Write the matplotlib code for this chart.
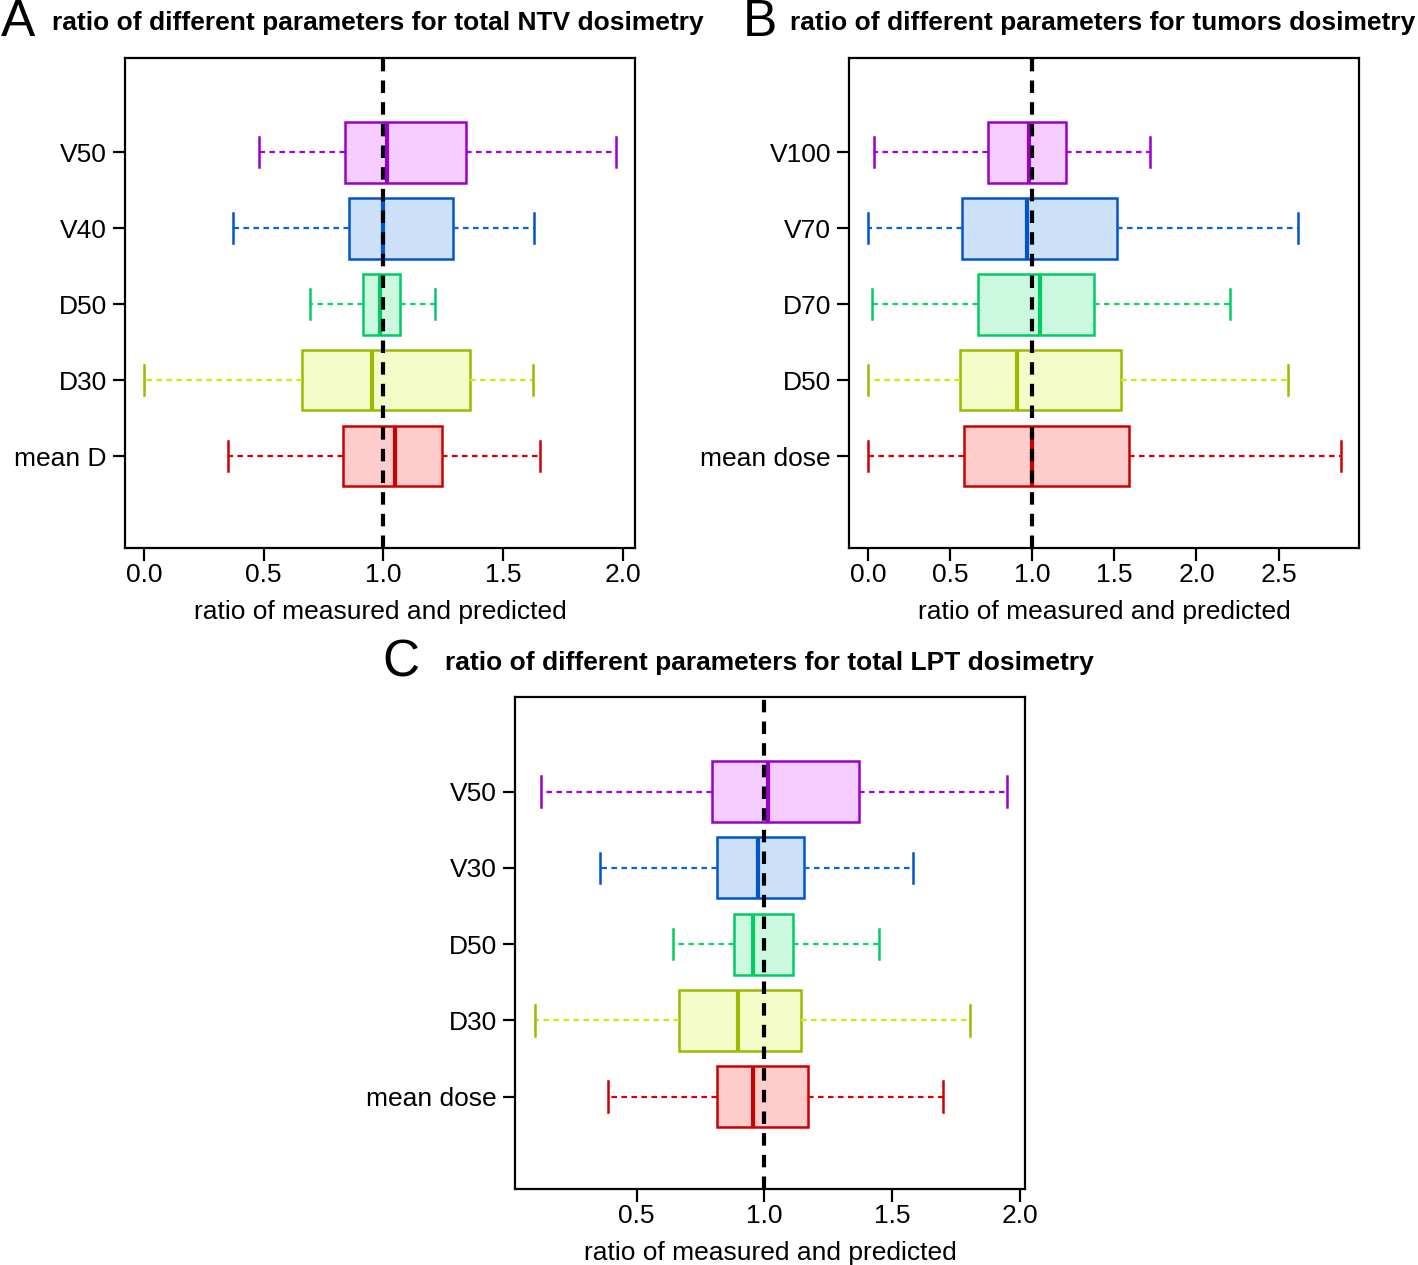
import matplotlib
matplotlib.use("Agg")
import matplotlib.pyplot as plt

plt.rcParams['font.family'] = ['Liberation Sans', 'DejaVu Sans']

# panel A: total NTV
labels_a = ["mean D", "D30", "D50", "V40", "V50"]
low_a = [0.35, 0.0, 0.693, 0.37, 0.48]
q1_a = [0.83, 0.66, 0.914, 0.856, 0.84]
med_a = [1.048, 0.952, 0.985, 1.0, 1.015]
q3_a = [1.244, 1.36, 1.07, 1.29, 1.345]
high_a = [1.653, 1.625, 1.215, 1.63, 1.97]

# panel B: tumors
labels_b = ["mean dose", "D50", "D70", "V70", "V100"]
low_b = [0.0, 0.0, 0.024, 0.0, 0.037]
q1_b = [0.585, 0.561, 0.67, 0.573, 0.73]
med_b = [1.0, 0.909, 1.049, 0.97, 0.98]
q3_b = [1.59, 1.543, 1.378, 1.518, 1.207]
high_b = [2.878, 2.555, 2.207, 2.616, 1.72]

# panel C: total LPT
labels_c = ["mean dose", "D30", "D50", "V30", "V50"]
low_c = [0.388, 0.102, 0.643, 0.357, 0.125]
q1_c = [0.816, 0.667, 0.882, 0.816, 0.796]
med_c = [0.957, 0.898, 0.957, 0.976, 1.012]
q3_c = [1.169, 1.145, 1.11, 1.153, 1.369]
high_c = [1.698, 1.804, 1.447, 1.58, 1.949]

edge = ["#cc0000", "#99bb00", "#00cc66", "#0055cc", "#9900cc"]
whisk = ["#dd0000", "#ccee00", "#00dd66", "#0066dd", "#aa00dd"]
fill = ["#ffcccc", "#f4fcc8", "#ccf8e0", "#cce0f8", "#f4ccff"]

W, H = 1418, 1265
fig = plt.figure(figsize=(W / 100, H / 100), dpi=100)


def panel(rect, labels, low, q1, med, q3, high, xlim, xticks):
    ax = fig.add_axes(rect)
    stats = []
    for i in range(len(labels)):
        stats.append(dict(whislo=low[i], q1=q1[i], med=med[i], q3=q3[i],
                          whishi=high[i], fliers=[], label=labels[i]))
    bp = ax.bxp(stats, positions=range(1, 6), widths=0.8, capwidths=0.4,
                orientation='horizontal', patch_artist=True, showfliers=False)
    for i in range(5):
        bp['boxes'][i].set(facecolor=fill[i], edgecolor=edge[i], linewidth=1.8)
        bp['medians'][i].set(color=edge[i], linewidth=3)
        for w in bp['whiskers'][2 * i:2 * i + 2]:
            w.set(color=whisk[i], linewidth=1.6, linestyle=(0, (2.5, 2)))
        for c in bp['caps'][2 * i:2 * i + 2]:
            c.set(color=edge[i], linewidth=1.8)
    ax.axvline(1.0, color="black", linewidth=3, linestyle=(0, (3, 2.2)), zorder=5)
    ax.set_xlim(*xlim)
    ax.set_ylim(-0.21, 6.24)
    ax.set_xticks(xticks)
    ax.set_xticklabels(["%.1f" % t for t in xticks])
    ax.set_yticks(range(1, 6))
    ax.set_yticklabels(labels)
    ax.tick_params(labelsize=19, width=1.6, length=9)
    ax.tick_params(axis="x", pad=2)
    ax.tick_params(axis="y", pad=4)
    for s in ax.spines.values():
        s.set_linewidth(1.6)
    ax.set_xlabel("ratio of measured and predicted", fontsize=19, labelpad=9)
    return ax


panel([125 / W, 1 - 548 / H, 510 / W, 490 / H], labels_a, low_a, q1_a, med_a,
      q3_a, high_a, (-0.079, 2.05), [0.0, 0.5, 1.0, 1.5, 2.0])
panel([849 / W, 1 - 548 / H, 510 / W, 490 / H], labels_b, low_b, q1_b, med_b,
      q3_b, high_b, (-0.116, 2.99), [0.0, 0.5, 1.0, 1.5, 2.0, 2.5])
panel([515 / W, 1 - 1189 / H, 510 / W, 492 / H], labels_c, low_c, q1_c, med_c,
      q3_c, high_c, (0.0235, 2.02), [0.5, 1.0, 1.5, 2.0])

titles = [("A", 1, 23, "ratio of different parameters for total NTV dosimetry", 52),
          ("B", 743, 23, "ratio of different parameters for tumors dosimetry", 790),
          ("C", 382, 663, "ratio of different parameters for total LPT dosimetry", 445)]
for letter, lx, y, t, tx in titles:
    fig.text(lx / W, 1 - y / H, letter, fontsize=37, va="center", ha="left",
             family=["Liberation Sans Narrow", "Liberation Sans"])
    fig.text(tx / W, 1 - y / H, t, fontsize=19, fontweight="bold", va="center", ha="left")

fig.savefig("out.png", dpi=100)
